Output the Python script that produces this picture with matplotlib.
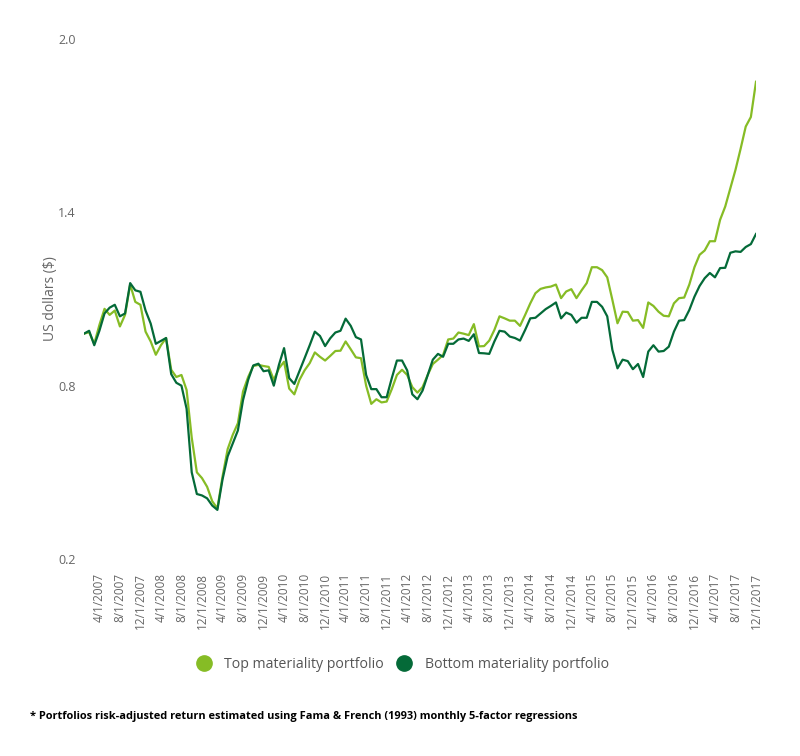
import matplotlib
matplotlib.use("Agg")
import matplotlib.pyplot as plt
from matplotlib.lines import Line2D
import pandas as pd

# monthly values, 1/1/2007 .. 12/1/2017
months = pd.date_range("2007-01-01", periods=132, freq="MS")
month_labels = ["%d/1/%d" % (d.month, d.year) for d in months]

top_portfolio = [
    0.98, 0.985, 0.945, 1.01, 1.066, 1.045, 1.06, 1.005, 1.045, 1.15,
    1.09, 1.08, 0.987, 0.953, 0.907, 0.94, 0.965, 0.855, 0.83, 0.837,
    0.785, 0.62, 0.50, 0.48, 0.45, 0.40, 0.375, 0.485, 0.58, 0.63,
    0.67, 0.78, 0.83, 0.868, 0.872, 0.868, 0.865, 0.82, 0.86, 0.883,
    0.79, 0.77, 0.82, 0.853, 0.878, 0.915, 0.90, 0.887, 0.903, 0.92,
    0.921, 0.953, 0.926, 0.898, 0.895, 0.80, 0.737, 0.753, 0.742, 0.745,
    0.788, 0.837, 0.855, 0.837, 0.795, 0.776, 0.795, 0.837, 0.875, 0.89,
    0.906, 0.96, 0.963, 0.984, 0.98, 0.975, 1.013, 0.936, 0.937, 0.956,
    0.993, 1.04, 1.033, 1.025, 1.025, 1.007, 1.045, 1.085, 1.12, 1.135,
    1.14, 1.143, 1.15, 1.103, 1.126, 1.134, 1.103, 1.13, 1.155, 1.21,
    1.21, 1.20, 1.175, 1.097, 1.016, 1.056, 1.055, 1.025, 1.027, 1.0,
    1.088, 1.076, 1.056, 1.042, 1.04, 1.085, 1.103, 1.105, 1.15, 1.21,
    1.253, 1.268, 1.30, 1.30, 1.374, 1.42, 1.483, 1.547, 1.62, 1.697,
    1.73, 1.852,
]
bottom_portfolio = [
    0.98, 0.99, 0.94, 0.99, 1.05, 1.07, 1.08, 1.04, 1.05, 1.155,
    1.13, 1.125, 1.06, 1.015, 0.945, 0.955, 0.965, 0.84, 0.81, 0.80,
    0.72, 0.50, 0.425, 0.42, 0.41, 0.385, 0.37, 0.475, 0.555, 0.60,
    0.645, 0.75, 0.82, 0.87, 0.876, 0.85, 0.853, 0.80, 0.872, 0.93,
    0.826, 0.806, 0.85, 0.895, 0.94, 0.987, 0.972, 0.937, 0.964, 0.984,
    0.99, 1.032, 1.007, 0.968, 0.96, 0.837, 0.788, 0.788, 0.76, 0.76,
    0.826, 0.887, 0.887, 0.853, 0.77, 0.753, 0.783, 0.837, 0.89, 0.91,
    0.90, 0.945, 0.945, 0.96, 0.963, 0.955, 0.978, 0.913, 0.912, 0.91,
    0.953, 0.99, 0.987, 0.97, 0.965, 0.956, 0.993, 1.033, 1.035, 1.05,
    1.065, 1.076, 1.088, 1.033, 1.053, 1.045, 1.018, 1.035, 1.035, 1.09,
    1.09, 1.073, 1.04, 0.924, 0.86, 0.89, 0.885, 0.857, 0.875, 0.83,
    0.918, 0.94, 0.918, 0.92, 0.935, 0.987, 1.025, 1.027, 1.062, 1.108,
    1.145, 1.172, 1.19, 1.175, 1.207, 1.208, 1.26, 1.265, 1.263, 1.28,
    1.29, 1.325,
]
y_ticks = [0.2, 0.8, 1.4, 2.0]

light_green = "#86bc25"
dark_green = "#046a38"
grey = "#666666"

plt.rcParams["font.family"] = ["Open Sans", "DejaVu Sans"]

fig = plt.figure(figsize=(8, 7.56), dpi=100, facecolor="white")
ax = fig.add_axes([0.105, 1 - 559 / 756, 0.84, (559 - 39) / 756])

x = list(range(len(months)))
ax.plot(x, top_portfolio, color=light_green, lw=1.6)
ax.plot(x, bottom_portfolio, color=dark_green, lw=1.6)

ax.set_xlim(0, len(months) - 1)
ax.set_ylim(0.2, 2.0)
ax.set_yticks(y_ticks)
ax.set_yticklabels(["%.1f" % v for v in y_ticks])
tick_idx = x[3::4]
ax.set_xticks(tick_idx)
ax.set_xticklabels([month_labels[i] for i in tick_idx], rotation=90)
ax.tick_params(axis="both", length=0, colors=grey)
ax.tick_params(axis="y", labelsize=9, pad=6)
ax.tick_params(axis="x", labelsize=8.5, pad=10)
for s in ax.spines.values():
    s.set_visible(False)
ax.set_ylabel("US dollars ($)", color=grey, fontsize=10, labelpad=0)

handles = [
    Line2D([], [], marker="o", ls="", ms=11, color=light_green),
    Line2D([], [], marker="o", ls="", ms=11, color=dark_green),
]
fig.legend(handles, ["Top materiality portfolio", "Bottom materiality portfolio"],
           loc="center", bbox_to_anchor=(0.499, 1 - 664 / 756), ncol=2, frameon=False,
           fontsize=10.2, handletextpad=0.45, columnspacing=0.45, labelcolor="#555555")

fig.text(0.038, 1 - 716 / 756,
         "* Portfolios risk-adjusted return estimated using Fama & French (1993) monthly 5-factor regressions",
         fontsize=7.9, fontweight="bold", color="black", va="center",
         family=["Liberation Sans Narrow", "Open Sans", "DejaVu Sans"])

fig.savefig("out.png", dpi=100, facecolor="white")
